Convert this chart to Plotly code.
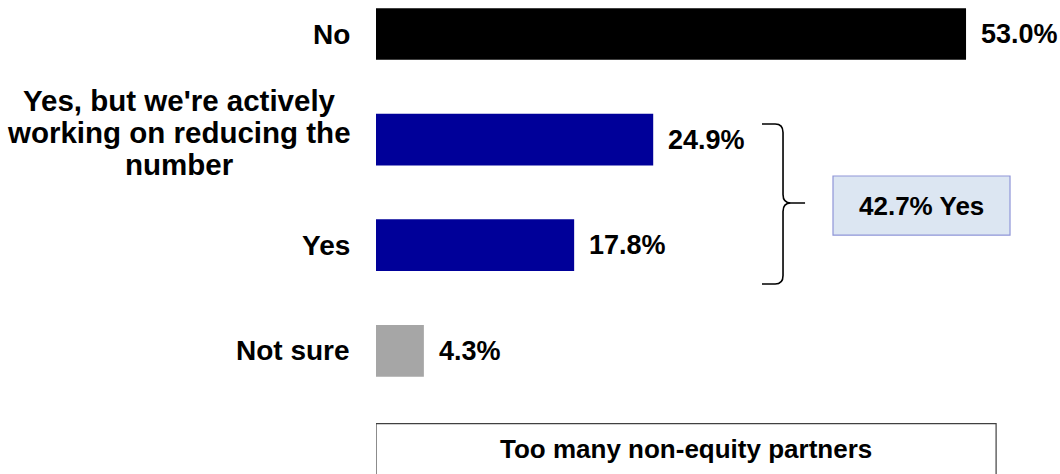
import plotly.graph_objects as go

# Survey answers and their shares (%)
categories = ["No", "Yes, but we're actively<br>working on reducing the<br>number", "Yes", "Not sure"]
shares = [53.0, 24.9, 17.8, 4.3]
bar_colors = ["#000000", "#000099", "#000099", "#a6a6a6"]
yes_group = [1, 2]  # answers combined in the "Yes" call-out
caption = "Too many non-equity partners"

FONT = "Liberation Sans, Arial, sans-serif"
positions = list(range(len(categories)))

fig = go.Figure(
    go.Bar(
        y=positions,
        x=shares,
        orientation="h",
        marker=dict(color=bar_colors, line=dict(width=0)),
        width=0.49,
        hoverinfo="skip",
    )
)

annotations = []

# Category labels left of the bars; multi-line labels are centred as a block
LINE_GAP = 32
for pos, label in zip(positions, categories):
    lines = label.split("<br>")
    n = len(lines)
    if n == 1:
        annotations.append(dict(
            x=0, y=pos, xref="x", yref="y", text=f"<b>{label}</b>",
            xanchor="right", yanchor="middle", xshift=-24, yshift=0,
            showarrow=False, font=dict(family=FONT, size=28, color="#000000"),
        ))
    else:
        for i, line in enumerate(lines):
            annotations.append(dict(
                x=0, y=pos, xref="x", yref="y", text=f"<b>{line}</b>",
                xanchor="center", yanchor="middle", xshift=-197,
                yshift=-(i - (n - 1) / 2) * LINE_GAP + 7,
                showarrow=False, font=dict(family=FONT, size=29.5, color="#000000"),
            ))

# Value labels at the bar ends
for pos, val in zip(positions, shares):
    annotations.append(dict(
        x=val, y=pos, xref="x", yref="y", text=f"<b>{val:.1f}%</b>",
        xanchor="left", yanchor="middle", xshift=13,
        showarrow=False, font=dict(family=FONT, size=27, color="#000000"),
    ))

# Curly bracket grouping the two "Yes" answers
bx0, bx1, btip = 34.67, 36.56, 38.54
by0, bmid, by1 = 0.852, 1.60, 2.367
bracket = (
    f"M {bx0},{by0} L {bx1 - 0.7},{by0} Q {bx1},{by0} {bx1},{by0 + 0.08} "
    f"L {bx1},{bmid - 0.08} Q {bx1},{bmid} {bx1 + 0.7},{bmid} L {btip},{bmid} "
    f"M {bx1 + 0.7},{bmid} Q {bx1},{bmid} {bx1},{bmid + 0.08} "
    f"L {bx1},{by1 - 0.08} Q {bx1},{by1} {bx1 - 0.7},{by1} L {bx0},{by1}"
)

yes_total = sum(shares[i] for i in yes_group)

shapes = [
    dict(type="path", path=bracket, xref="x", yref="y",
         line=dict(color="#000000", width=1.6)),
    dict(type="rect", xref="x", yref="y", x0=41.05, x1=56.95, y0=1.345, y1=1.905,
         fillcolor="#dce6f2", line=dict(color="#8f95d8", width=1.2), layer="below"),
    dict(type="rect", xref="x", yref="y", x0=0.0, x1=55.7, y0=3.69, y1=4.6,
         fillcolor="rgba(0,0,0,0)", line=dict(color="#404040", width=1.2)),
]

annotations.append(dict(
    x=49.0, y=1.625, xref="x", yref="y", text=f"<b>{yes_total:.1f}% Yes</b>",
    xanchor="center", yanchor="middle", showarrow=False,
    font=dict(family=FONT, size=26, color="#000000"),
))
annotations.append(dict(
    x=27.85, y=3.93, xref="x", yref="y", text=f"<b>{caption}</b>",
    xanchor="center", yanchor="middle", showarrow=False,
    font=dict(family=FONT, size=26, color="#000000"),
))

fig.update_layout(
    width=1060,
    height=474,
    margin=dict(l=376, r=0, t=0, b=0),
    paper_bgcolor="#ffffff",
    plot_bgcolor="#ffffff",
    showlegend=False,
    xaxis=dict(range=[0, 61.44], visible=False, fixedrange=True),
    yaxis=dict(range=[4.167, -0.322], visible=False, fixedrange=True),
    shapes=shapes,
    annotations=annotations,
)

fig.write_html("out.html")
